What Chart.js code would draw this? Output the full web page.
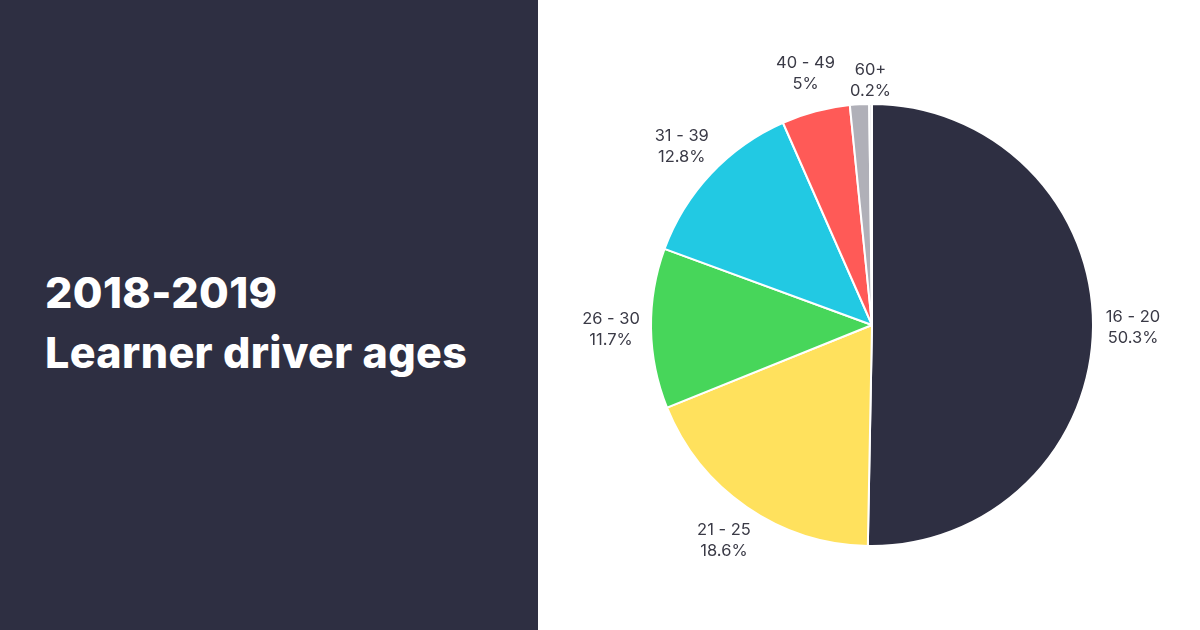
<!DOCTYPE html>
<html><head><meta charset="utf-8">
<script src="https://cdn.jsdelivr.net/npm/chart.js@4"></script>
<style>
body{margin:0;width:1200px;height:630px;overflow:hidden;background:#fff;font-family:Inter,sans-serif}
#left{position:absolute;left:0;top:0;width:538px;height:630px;background:#2e2f42}
#title{position:absolute;left:45px;top:262px;color:#fff;font-weight:800;font-size:43px;line-height:60px;letter-spacing:0.4px}
#wrap{position:absolute;left:541px;top:0;width:662px;height:630px}
</style></head><body>
<div id="left"><div id="title">2018-2019<br>Learner driver ages</div></div>
<div id="wrap"><canvas id="c"></canvas></div>
<script>
const categories=["16 - 20","21 - 25","26 - 30","31 - 39","40 - 49","50 - 59","60+"];
const values=[50.3,18.6,11.7,12.8,5,1.4,0.2];
const showLabel=[true,true,true,true,true,false,true];
const colors=["#2e2f42","#ffe15d","#47d65a","#22c9e3","#ff5a57","#b0b0b8","#e8e8ec"];
const labelPlugin={id:"lbl",afterDatasetsDraw(chart){
 const ctx=chart.ctx;const meta=chart.getDatasetMeta(0);
 ctx.save();ctx.fillStyle="#3a3a46";ctx.font="16.5px Inter, sans-serif";ctx.textAlign="center";ctx.textBaseline="middle";
 meta.data.forEach((a,i)=>{if(!showLabel[i])return;
  const mid=(a.startAngle+a.endAngle)/2;const R=a.outerRadius+(i===6?24:40);
  const x=a.x+Math.cos(mid)*R,y=a.y+Math.sin(mid)*R;
  ctx.fillText(categories[i],x,y-10);ctx.fillText(values[i]+"%",x,y+11);});
 ctx.restore();}};
new Chart(document.getElementById("c"),{type:"pie",
 data:{labels:categories,datasets:[{data:values,backgroundColor:colors,borderColor:"#fff",borderWidth:2}]},
 options:{responsive:true,maintainAspectRatio:false,animation:false,
  layout:{padding:{top:103,bottom:83}},
  plugins:{legend:{display:false},tooltip:{enabled:false}}},
 plugins:[labelPlugin]});
</script></body></html>
